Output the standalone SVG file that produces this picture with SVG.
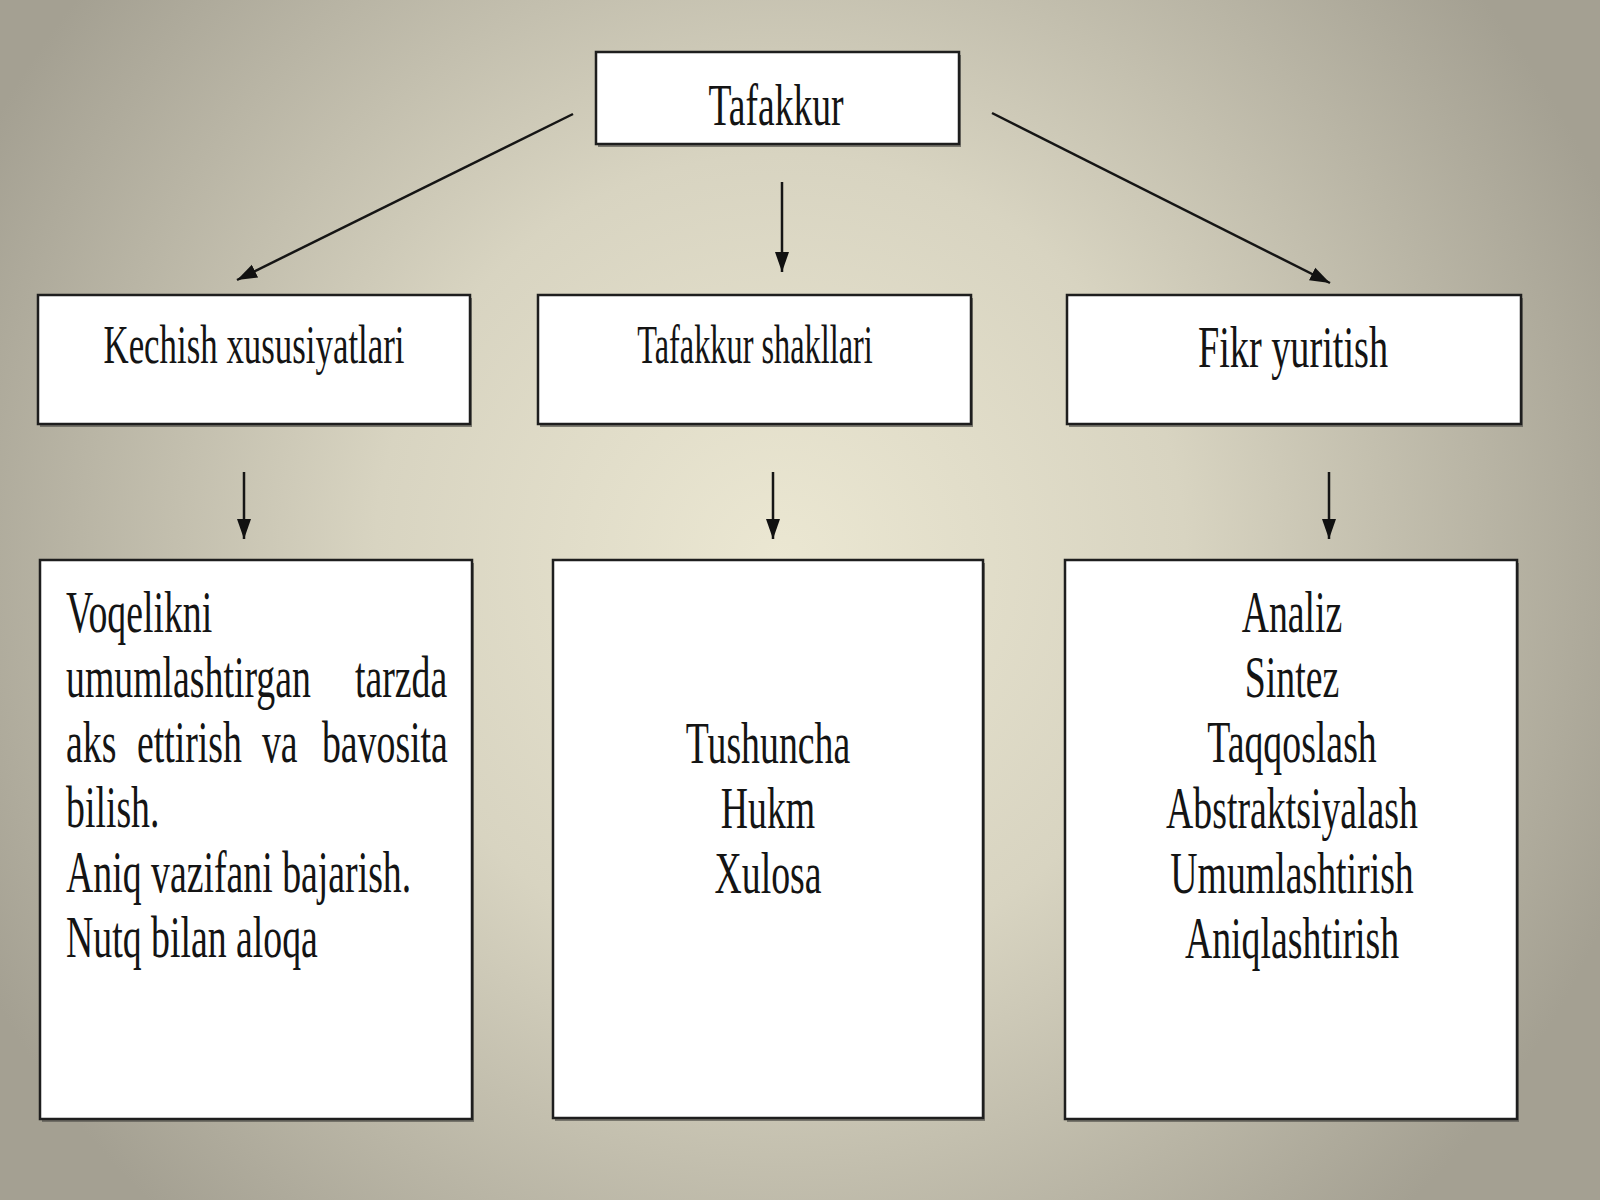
<svg xmlns="http://www.w3.org/2000/svg" width="1600" height="1200" viewBox="0 0 1600 1200">
<defs>
<radialGradient id="bg" cx="780" cy="560" r="900" gradientUnits="userSpaceOnUse">
<stop offset="0" stop-color="#ebe7d2"/>
<stop offset="0.45" stop-color="#d8d4c1"/>
<stop offset="1" stop-color="#a4a092"/>
</radialGradient>
<marker id="ah" markerWidth="22" markerHeight="16" refX="20" refY="8" orient="auto" markerUnits="userSpaceOnUse">
<path d="M0,1 L20,8 L0,15 Z" fill="#111"/>
</marker>
</defs>
<style>
.box{fill:#ffffff;stroke:#1e1e1e;stroke-width:2.5}
.sh{fill:#5e5c55;opacity:0.75}
text{font-family:'Liberation Serif',serif;fill:#141414}
.c{text-anchor:middle}
.con{stroke:#151515;stroke-width:2.5;fill:none;marker-end:url(#ah)}
</style>
<rect width="1600" height="1200" fill="url(#bg)"/>

<g id="connectors">
<line class="con" x1="573" y1="114" x2="237" y2="280"/>
<line class="con" x1="782" y1="182" x2="782" y2="272"/>
<line class="con" x1="992" y1="113" x2="1330" y2="283"/>
<line class="con" x1="244" y1="472" x2="244" y2="539"/>
<line class="con" x1="773" y1="472" x2="773" y2="539"/>
<line class="con" x1="1329" y1="472" x2="1329" y2="539"/>
</g>

<g font-family="Liberation Serif, serif">
<g id="tafakkur">
<rect class="sh" x="598" y="55" width="363" height="92"/>
<rect class="box" x="596" y="52" width="363" height="92"/>
<text class="c" font-size="60" transform="translate(776,125) scale(0.627,1)">Tafakkur</text>
</g>

<g id="kechish">
<rect class="sh" x="40" y="298" width="432" height="129"/>
<rect class="box" x="38" y="295" width="432" height="129"/>
<text class="c" font-size="55" transform="translate(254,363) scale(0.634,1)">Kechish xususiyatlari</text>
</g>

<g id="shakllari">
<rect class="sh" x="540" y="298" width="433" height="129"/>
<rect class="box" x="538" y="295" width="433" height="129"/>
<text class="c" font-size="55" transform="translate(755,363) scale(0.588,1)">Tafakkur shakllari</text>
</g>

<g id="fikr">
<rect class="sh" x="1069" y="298" width="454" height="129"/>
<rect class="box" x="1067" y="295" width="454" height="129"/>
<text class="c" font-size="59" transform="translate(1293,367) scale(0.648,1)">Fikr yuritish</text>
</g>

<g id="xususiyat-list">
<rect class="sh" x="42" y="563" width="432" height="559"/>
<rect class="box" x="40" y="560" width="432" height="559"/>
<text font-size="60" transform="translate(66,632) scale(0.63,1)">Voqelikni</text>
<text font-size="60" transform="translate(66,697) scale(0.63,1)"><tspan x="0">umumlashtirgan </tspan><tspan x="458.7">tarzda</tspan></text>
<text font-size="60" transform="translate(66,762) scale(0.63,1)"><tspan x="0">aks </tspan><tspan x="112.7">ettirish </tspan><tspan x="311">va </tspan><tspan x="406.3">bavosita</tspan></text>
<text font-size="60" transform="translate(66,827) scale(0.63,1)">bilish.</text>
<text font-size="60" transform="translate(66,892) scale(0.63,1)">Aniq vazifani bajarish.</text>
<text font-size="60" transform="translate(66,957) scale(0.63,1)">Nutq bilan aloqa</text>
</g>

<g id="shakl-list">
<rect class="sh" x="555" y="563" width="430" height="558"/>
<rect class="box" x="553" y="560" width="430" height="558"/>
<text class="c" font-size="60" transform="translate(768,763) scale(0.63,1)">Tushuncha</text>
<text class="c" font-size="60" transform="translate(768,828) scale(0.63,1)">Hukm</text>
<text class="c" font-size="60" transform="translate(768,893) scale(0.63,1)">Xulosa</text>
</g>

<g id="fikr-list">
<rect class="sh" x="1067" y="563" width="452" height="559"/>
<rect class="box" x="1065" y="560" width="452" height="559"/>
<text class="c" font-size="60" transform="translate(1292,632) scale(0.63,1)">Analiz</text>
<text class="c" font-size="60" transform="translate(1292,697) scale(0.63,1)">Sintez</text>
<text class="c" font-size="60" transform="translate(1292,762) scale(0.63,1)">Taqqoslash</text>
<text class="c" font-size="60" transform="translate(1292,828) scale(0.63,1)">Abstraktsiyalash</text>
<text class="c" font-size="60" transform="translate(1292,893) scale(0.63,1)">Umumlashtirish</text>
<text class="c" font-size="60" transform="translate(1292,958) scale(0.63,1)">Aniqlashtirish</text>
</g>
</g>
</svg>
